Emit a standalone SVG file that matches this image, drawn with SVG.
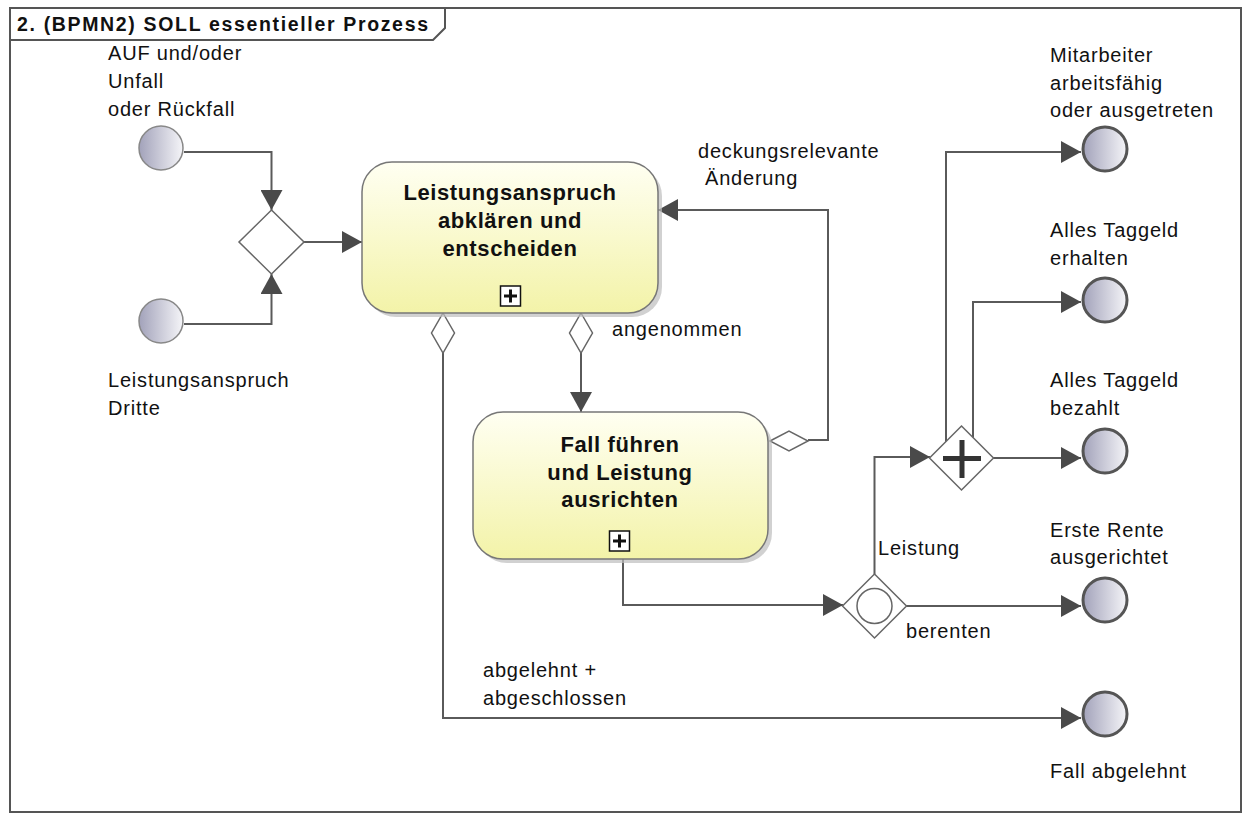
<svg xmlns="http://www.w3.org/2000/svg" width="1250" height="816" viewBox="0 0 1250 816">
  <defs>
    <linearGradient id="taskFill" x1="0" y1="0" x2="0" y2="1">
      <stop offset="0" stop-color="#FFFFF2"/>
      <stop offset="1" stop-color="#F3F3A8"/>
    </linearGradient>
    <linearGradient id="eventFill" x1="0" y1="0" x2="1" y2="0">
      <stop offset="0" stop-color="#A2A2BA"/>
      <stop offset="1" stop-color="#F5F5F8"/>
    </linearGradient>
    <marker id="arrow" markerWidth="20" markerHeight="22" refX="20" refY="11" orient="auto" markerUnits="userSpaceOnUse">
      <path d="M0,0 L20,11 L0,22 Z" fill="#4a4a4a"/>
    </marker>
  </defs>
  <style>
    .frame{fill:#fff;stroke:#555;stroke-width:2}
    .title{font-family:"Liberation Sans",Arial,sans-serif;font-size:19.5px;font-weight:bold;fill:#111}
    .lbl{font-family:"Liberation Sans",Arial,sans-serif;font-size:20px;letter-spacing:0.8px;fill:#111}
    .task-text{font-family:"Liberation Sans",Arial,sans-serif;font-size:22px;font-weight:bold;letter-spacing:0.6px;fill:#111;text-anchor:middle}
    .task{fill:url(#taskFill);stroke:#777;stroke-width:1.5}
    .task-shadow{fill:#bdbdbd;opacity:0.7}
    .sub{fill:#fff;stroke:#111;stroke-width:1.5}
    .sub-plus{stroke:#111;stroke-width:3}
    .gw{fill:#fff;stroke:#666;stroke-width:1.5}
    .start{fill:url(#eventFill);stroke:#888;stroke-width:1.5}
    .end{fill:url(#eventFill);stroke:#555;stroke-width:3}
    .flow{fill:none;stroke:#5a5a5a;stroke-width:2;marker-end:url(#arrow)}
    .cond{fill:#fff;stroke:#666;stroke-width:1.5}
  </style>

  <!-- diagram frame with name tab -->
  <g id="frame">
    <rect class="frame" x="10" y="8" width="1231" height="804"/>
    <path class="frame" d="M10,8 H445 V28 L433,40 H10 Z"/>
    <text class="title" x="17" y="31" textLength="411" lengthAdjust="spacing">2. (BPMN2) SOLL essentieller Prozess</text>
  </g>

  <!-- sequence flows -->
  <g id="connectors">
    <path class="flow" d="M184,152 H271.5 V210"/>
    <path class="flow" d="M184,324 H271.5 V274"/>
    <path class="flow" d="M304,242 H362"/>
    <path class="flow" d="M443,353 V718 H1081"/>
    <path class="flow" d="M581,353 V412"/>
    <path class="flow" d="M808,440 H828 V210 H658"/>
    <path class="flow" d="M623,559 V605 H843"/>
    <path class="flow" d="M874.5,574 V457 H930"/>
    <path class="flow" d="M906,606 H1081"/>
    <path class="flow" d="M946,442 V152 H1081"/>
    <path class="flow" d="M973,438 V302 H1081"/>
    <path class="flow" d="M993,458 H1081"/>
    <!-- conditional flow markers at the source side -->
    <path class="cond" d="M443,313 L454.5,333 L443,353 L431.5,333 Z"/>
    <path class="cond" d="M581,313 L592.5,333 L581,353 L569.5,333 Z"/>
    <path class="cond" d="M770,441 L789,431 L808,441 L789,451 Z"/>
    <!-- flow labels -->
    <text class="lbl" x="698" y="158">deckungsrelevante</text>
    <text class="lbl" x="705" y="185">Änderung</text>
    <text class="lbl" x="612" y="336">angenommen</text>
    <text class="lbl" x="878" y="555">Leistung</text>
    <text class="lbl" x="906" y="638">berenten</text>
    <text class="lbl" x="483" y="677">abgelehnt +</text>
    <text class="lbl" x="483" y="705">abgeschlossen</text>
  </g>

  <!-- start events -->
  <g id="start-auf">
    <circle class="start" cx="161" cy="148" r="22"/>
    <text class="lbl" x="108" y="60">AUF und/oder</text>
    <text class="lbl" x="108" y="88">Unfall</text>
    <text class="lbl" x="108" y="116">oder Rückfall</text>
  </g>
  <g id="start-dritte">
    <circle class="start" cx="161" cy="321" r="22"/>
    <text class="lbl" x="108" y="387">Leistungsanspruch</text>
    <text class="lbl" x="108" y="415">Dritte</text>
  </g>

  <!-- merging gateway -->
  <g id="gw-merge">
    <path class="gw" d="M271.5,210 L304,242 L271.5,274 L239,242 Z"/>
  </g>

  <!-- sub-processes -->
  <g id="task-abklaeren">
    <rect class="task-shadow" x="366" y="166" width="296" height="151" rx="30"/>
    <rect class="task" x="362" y="162" width="296" height="151" rx="30"/>
    <text class="task-text" x="510" y="200">Leistungsanspruch</text>
    <text class="task-text" x="510" y="228">abklären und</text>
    <text class="task-text" x="510" y="256">entscheiden</text>
    <rect class="sub" x="500.5" y="286" width="20" height="20"/>
    <path class="sub-plus" d="M504,296 H517 M510.5,289.5 V302.5"/>
  </g>
  <g id="task-fuehren">
    <rect class="task-shadow" x="477" y="416" width="295" height="147" rx="30"/>
    <rect class="task" x="473" y="412" width="295" height="147" rx="30"/>
    <text class="task-text" x="620" y="452">Fall führen</text>
    <text class="task-text" x="620" y="480">und Leistung</text>
    <text class="task-text" x="620" y="507">ausrichten</text>
    <rect class="sub" x="609.5" y="531" width="20" height="20"/>
    <path class="sub-plus" d="M613,541 H626 M619.5,534.5 V547.5"/>
  </g>

  <!-- inclusive gateway -->
  <g id="gw-inclusive">
    <path class="gw" d="M874.5,574 L906.5,606 L874.5,638 L842.5,606 Z"/>
    <circle cx="874.5" cy="606" r="17.5" fill="none" stroke="#666" stroke-width="1.5"/>
  </g>

  <!-- parallel gateway -->
  <g id="gw-parallel">
    <path class="gw" d="M961.5,426 L993.5,458 L961.5,490 L929.5,458 Z"/>
    <path d="M943,458.5 H981 M962,440 V478" stroke="#333" stroke-width="5"/>
  </g>

  <!-- end events -->
  <g id="end-arbeitsfaehig">
    <circle class="end" cx="1105" cy="149" r="22"/>
    <text class="lbl" x="1050" y="62">Mitarbeiter</text>
    <text class="lbl" x="1050" y="90">arbeitsfähig</text>
    <text class="lbl" x="1050" y="117">oder ausgetreten</text>
  </g>
  <g id="end-erhalten">
    <circle class="end" cx="1105" cy="300" r="22"/>
    <text class="lbl" x="1050" y="237">Alles Taggeld</text>
    <text class="lbl" x="1050" y="265">erhalten</text>
  </g>
  <g id="end-bezahlt">
    <circle class="end" cx="1105" cy="451" r="22"/>
    <text class="lbl" x="1050" y="387">Alles Taggeld</text>
    <text class="lbl" x="1050" y="415">bezahlt</text>
  </g>
  <g id="end-rente">
    <circle class="end" cx="1105" cy="600" r="22"/>
    <text class="lbl" x="1050" y="537">Erste Rente</text>
    <text class="lbl" x="1050" y="564">ausgerichtet</text>
  </g>
  <g id="end-abgelehnt">
    <circle class="end" cx="1105" cy="714" r="22"/>
    <text class="lbl" x="1050" y="778">Fall abgelehnt</text>
  </g>
</svg>
